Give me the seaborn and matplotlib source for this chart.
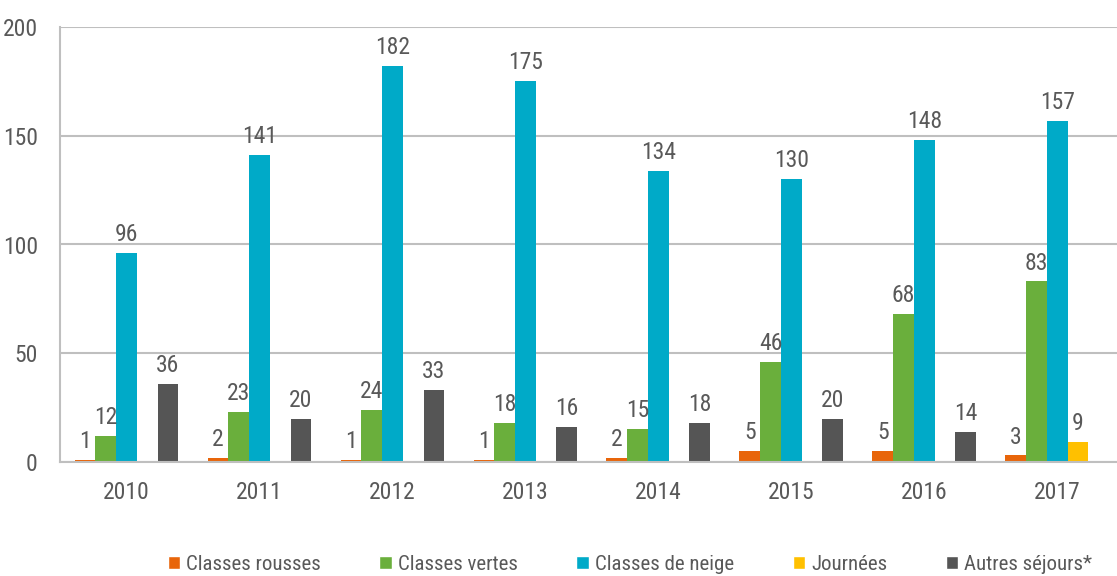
import pandas as pd
import seaborn as sns
import matplotlib.pyplot as plt
from matplotlib.patches import Patch

# --- Data ---
years = ['2010', '2011', '2012', '2013', '2014', '2015', '2016', '2017']
series = ['Classes rousses', 'Classes vertes', 'Classes de neige', 'Journées', 'Autres séjours*']
rousses = [1, 2, 1, 1, 2, 5, 5, 3]
vertes = [12, 23, 24, 18, 15, 46, 68, 83]
neige = [96, 141, 182, 175, 134, 130, 148, 157]
journees = [0, 0, 0, 0, 0, 0, 0, 9]
autres = [36, 20, 33, 16, 18, 20, 14, 0]
colors = ['#E8650A', '#6AAF3C', '#00AAC8', '#FFC000', '#555555']

rows = []
for name, vals in zip(series, [rousses, vertes, neige, journees, autres]):
    for y, v in zip(years, vals):
        rows.append({'Année': y, 'Type': name, 'Valeur': v})
df = pd.DataFrame(rows)

# --- Plot ---
sns.set_style('white')
plt.rcParams['font.family'] = ['Roboto Condensed', 'DejaVu Sans']
plt.rcParams['font.stretch'] = 'condensed'
grey = '#595959'

fig = plt.figure(figsize=(11.17, 5.76), dpi=100)
ax = fig.add_axes([60 / 1117, 1 - 462 / 576, 1 - 60 / 1117 + 0.006, (462 - 27) / 576])

sns.barplot(data=df, x='Année', y='Valeur', hue='Type', order=years, hue_order=series,
            palette=colors, width=0.78, saturation=1, linewidth=0, ax=ax, legend=False)

for cont, vals in zip(ax.containers, [rousses, vertes, neige, journees, autres]):
    labels = [str(v) if v > 0 else '' for v in vals]
    ax.bar_label(cont, labels=labels, padding=5, color=grey, fontsize=17)

ax.set_ylim(0, 200)
ax.set_yticks([0, 50, 100, 150, 200])
ax.set_xlim(-0.5, 7.5)
ax.yaxis.grid(True, color='#BFBFBF', linewidth=1.5)
ax.set_axisbelow(True)
ax.set_xlabel('')
ax.set_ylabel('')
for s in ['top', 'right']:
    ax.spines[s].set_visible(False)
for s in ['left', 'bottom']:
    ax.spines[s].set_color('#BFBFBF')
    ax.spines[s].set_linewidth(1.5)
ax.tick_params(axis='both', length=0, labelsize=17, colors=grey)
ax.tick_params(axis='x', pad=14)
ax.tick_params(axis='y', pad=16)

handles = [Patch(facecolor=c, label=n) for c, n in zip(colors, series)]
fig.legend(handles=handles, loc='center', bbox_to_anchor=(0.564, 0.02), ncol=5,
           frameon=False, fontsize=15, handlelength=0.6, handleheight=0.6,
           handletextpad=0.3, columnspacing=2.8, labelcolor=grey)

fig.savefig('out.png', dpi=100)
